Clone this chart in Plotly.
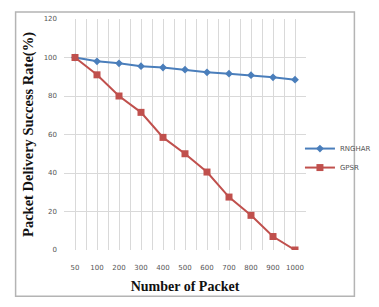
import plotly.graph_objects as go

categories = ["50", "100", "200", "300", "400", "500", "600", "700", "800", "900", "1000"]
rnghar = [100, 98, 97, 95.5, 94.8, 93.7, 92.3, 91.6, 90.8, 89.7, 88.5]
gpsr = [100, 91, 80, 71.5, 58.5, 50, 40.5, 27.5, 18, 7, 0]
y_ticks = [0, 20, 40, 60, 80, 100, 120]

idx = list(range(len(categories)))

fig = go.Figure()
fig.add_trace(go.Scatter(
    x=idx, y=rnghar, name="RNGHAR", mode="lines+markers",
    line=dict(color="#4a7ebb", width=2),
    marker=dict(symbol="diamond", size=6, color="#4a7ebb"),
))
fig.add_trace(go.Scatter(
    x=idx, y=gpsr, name="GPSR", mode="lines+markers",
    line=dict(color="#c0504d", width=2),
    marker=dict(symbol="square", size=7, color="#c0504d"),
))

xt = []
xl = []
for i in range(len(categories)):
    xt += [i - 0.5, i]
    xl += ["", categories[i]]
xt.append(len(categories) - 0.5)
xl.append("")

fig.update_layout(
    width=371, height=299,
    margin=dict(l=56, r=73, t=11, b=57, autoexpand=False),
    paper_bgcolor="white", plot_bgcolor="white",
    showlegend=True,
    legend=dict(x=0.975, y=0.398, xanchor="left", yanchor="middle",
                font=dict(family="DejaVu Sans", size=7, color="#555555"),
                bgcolor="rgba(0,0,0,0)", itemwidth=30, tracegroupgap=4),
    xaxis=dict(range=[-0.5, len(categories) - 0.5], tickmode="array", tickvals=xt, ticktext=xl,
               showgrid=True, gridcolor="#d9d9d9", gridwidth=1, zeroline=False,
               ticks="", tickfont=dict(family="DejaVu Sans", size=7, color="#555555"),
               ticklabelstandoff=12,
               title=dict(text="Number of Packet", standoff=10,
                          font=dict(family="Liberation Serif", size=14, color="#111111", weight="bold"))),
    yaxis=dict(range=[0, 120], tickmode="array", tickvals=y_ticks,
               showgrid=True, gridcolor="#d9d9d9", gridwidth=1, zeroline=False,
               ticks="", tickfont=dict(family="DejaVu Sans", size=7, color="#555555"),
               ticklabelstandoff=6,
               title=dict(text="Packet Delivery Success Rate(%)", standoff=6,
                          font=dict(family="Liberation Serif", size=14.5, color="#111111", weight="bold"))),
    shapes=[
        dict(type="rect", xref="paper", yref="paper", x0=-0.2, x1=1.2, y0=-0.2, y1=1.03,
             line=dict(color="#b4b4b4", width=1.5)),
    ],
)

fig.write_html("out.html")
